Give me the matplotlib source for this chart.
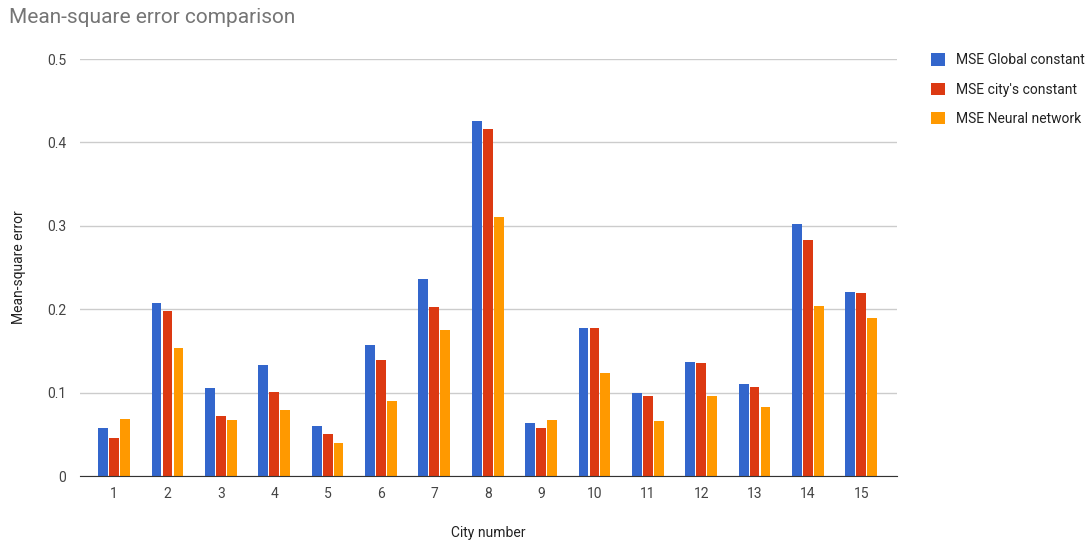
import numpy as np
import matplotlib.pyplot as plt

plt.rcParams['font.family'] = ['Roboto', 'DejaVu Sans']

cities = [str(i) for i in range(1, 16)]
mse_global = [0.058, 0.207, 0.106, 0.133, 0.060, 0.157, 0.236, 0.426,
              0.063, 0.177, 0.100, 0.137, 0.110, 0.302, 0.221]
mse_city = [0.046, 0.198, 0.072, 0.101, 0.050, 0.139, 0.203, 0.416,
            0.058, 0.177, 0.096, 0.136, 0.107, 0.283, 0.219]
mse_nn = [0.068, 0.153, 0.067, 0.079, 0.039, 0.090, 0.175, 0.310,
          0.067, 0.123, 0.066, 0.096, 0.083, 0.204, 0.190]

series = [
    ("MSE Global constant", mse_global, "#3366CC"),
    ("MSE city's constant", mse_city, "#DC3912"),
    ("MSE Neural network", mse_nn, "#FF9900"),
]

fig = plt.figure(figsize=(10.91, 5.45), dpi=100)
ax = fig.add_axes([0.0733, 0.1266, 0.7489, 0.7651])

x = np.arange(1, len(cities) + 1)
w = 0.205
for i, (name, vals, col) in enumerate(series):
    ax.bar(x + (i - 1) * w, vals, width=w * 0.9, color=col, label=name, zorder=3)

ax.set_xlim(0.36, 15.67)
ax.set_ylim(0, 0.5)
ax.set_yticks([0, 0.1, 0.2, 0.3, 0.4, 0.5])
ax.set_yticklabels(["0", "0.1", "0.2", "0.3", "0.4", "0.5"])
ax.set_xticks(x)
ax.set_xticklabels(cities)
ax.tick_params(length=0, colors="#444444", labelsize=10)
ax.tick_params(axis="y", pad=10)
ax.tick_params(axis="x", pad=8)
ax.grid(axis="y", color="#CCCCCC", linewidth=1, zorder=0)
for s in ["top", "right", "left"]:
    ax.spines[s].set_visible(False)
ax.spines["bottom"].set_color("#333333")
ax.spines["bottom"].set_zorder(4)

ax.set_xlabel("City number", fontsize=10, color="#222222")
ax.set_ylabel("Mean-square error", fontsize=10, color="#222222")
ax.xaxis.set_label_coords(0.5, -0.12)
ax.yaxis.set_label_coords(-0.066, 0.5)

fig.text(0.008, 0.985, "Mean-square error comparison", fontsize=15,
         color="#757575", ha="left", va="top")

fig.legend(loc="upper left", bbox_to_anchor=(0.842, 0.925), frameon=False,
           fontsize=10, handlelength=1.0, handleheight=1.0, labelspacing=1.1,
           handletextpad=0.8, labelcolor="#222222")

fig.savefig("out.png", dpi=100)
